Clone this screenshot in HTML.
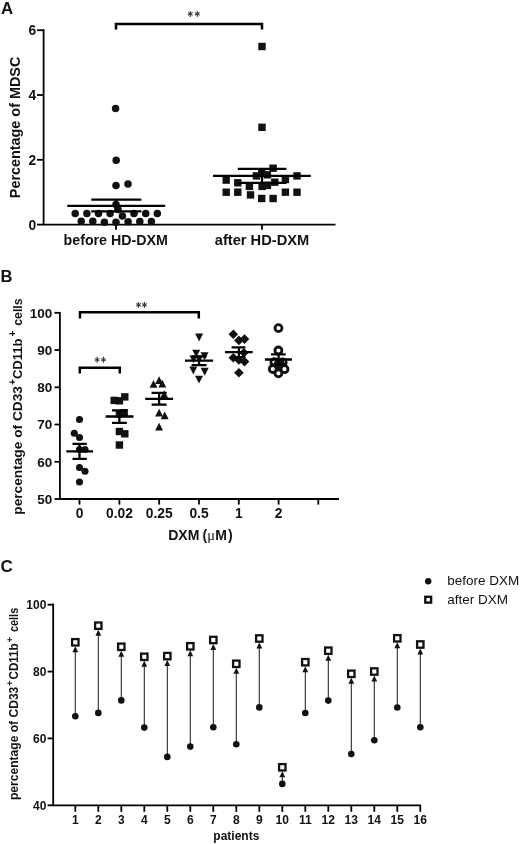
<!DOCTYPE html>
<html><head><meta charset="utf-8"><title>Figure</title>
<style>
html,body{margin:0;padding:0;background:#fff;}
body{width:520px;height:844px;overflow:hidden;font-family:"Liberation Sans",sans-serif;}
svg{display:block;filter:grayscale(1) blur(0.3px);font-family:"Liberation Sans",sans-serif;}
.b{font-weight:bold;fill:#111;}
.r{font-weight:normal;fill:#111;}
.ax{stroke:#000;stroke-width:1.8;fill:none;stroke-linecap:butt;}
.el{stroke:#000;stroke-width:2.3;fill:none;}
.br{stroke:#000;stroke-width:2.5;fill:none;stroke-linejoin:miter;}
.ar{stroke:#222;stroke-width:1.05;fill:none;}
.st{fill:#555;font-weight:normal;}
</style></head><body>
<svg width="520" height="844" viewBox="0 0 520 844">
<rect x="0" y="0" width="520" height="844" fill="#ffffff"/>

<g id="panelA">
<text class="b" x="1" y="13.6" font-size="16.8">A</text>
<path class="ax" d="M43.6 29.2 V224.6 H335.5"/>
<path class="ax" d="M37 30.2 H43.6"/>
<text class="b" x="36.2" y="35.1" font-size="13.8" text-anchor="end">6</text>
<path class="ax" d="M37 95 H43.6"/>
<text class="b" x="36.2" y="99.9" font-size="13.8" text-anchor="end">4</text>
<path class="ax" d="M37 159.8 H43.6"/>
<text class="b" x="36.2" y="164.7" font-size="13.8" text-anchor="end">2</text>
<path class="ax" d="M37 224.6 H43.6"/>
<text class="b" x="36.2" y="229.5" font-size="13.8" text-anchor="end">0</text>
<path class="ax" d="M116 224.6 V229.8"/>
<path class="ax" d="M262 224.6 V229.8"/>
<text class="b" x="115.7" y="244.5" font-size="14" text-anchor="middle" textLength="104.3" lengthAdjust="spacingAndGlyphs">before HD-DXM</text>
<text class="b" x="262" y="244.5" font-size="14" text-anchor="middle" textLength="94.5" lengthAdjust="spacingAndGlyphs">after HD-DXM</text>
<text class="b" transform="translate(19.6 198.2) rotate(-90)" font-size="14" textLength="141.5" lengthAdjust="spacingAndGlyphs">Percentage of MDSC</text>
<path class="br" d="M116 29.5 V24 H262 V29.5"/>
<path d="M190.3 10.90 V16.90 M188.01 12.57 L192.59 15.23 M188.01 15.23 L192.59 12.57" stroke="#3c3c3c" stroke-width="1.1" fill="none"/>
<path d="M197.3 10.90 V16.90 M195.01 12.57 L199.59 15.23 M195.01 15.23 L199.59 12.57" stroke="#3c3c3c" stroke-width="1.1" fill="none"/>
<circle cx="75.2" cy="213.4" r="3.75" fill="#111"/>
<circle cx="86.9" cy="213.4" r="3.75" fill="#111"/>
<circle cx="98.5" cy="213.4" r="3.75" fill="#111"/>
<circle cx="110.1" cy="213.4" r="3.75" fill="#111"/>
<circle cx="122.4" cy="216.0" r="3.75" fill="#111"/>
<circle cx="134" cy="213.4" r="3.75" fill="#111"/>
<circle cx="145.7" cy="213.4" r="3.75" fill="#111"/>
<circle cx="157.3" cy="213.4" r="3.75" fill="#111"/>
<circle cx="81.2" cy="221.3" r="3.75" fill="#111"/>
<circle cx="92.8" cy="221.3" r="3.75" fill="#111"/>
<circle cx="104.4" cy="222.3" r="3.75" fill="#111"/>
<circle cx="116" cy="222.3" r="3.75" fill="#111"/>
<circle cx="128.1" cy="221.8" r="3.75" fill="#111"/>
<circle cx="139.8" cy="221.5" r="3.75" fill="#111"/>
<circle cx="151.4" cy="221.5" r="3.75" fill="#111"/>
<circle cx="116" cy="204.5" r="3.75" fill="#111"/>
<circle cx="118" cy="209.5" r="3.75" fill="#111"/>
<circle cx="116" cy="185.5" r="3.75" fill="#111"/>
<circle cx="128" cy="184" r="3.75" fill="#111"/>
<circle cx="116.2" cy="160.2" r="3.75" fill="#111"/>
<circle cx="115.6" cy="108.5" r="3.75" fill="#111"/>
<path class="el" d="M67.3 205.9 H165.2 M91.3 199.7 H141.4 M91.3 211.3 H141.4 M116 199.7 V211.3"/>
<rect x="269.4" y="164.5" width="7.4" height="7.4" fill="#111"/>
<rect x="252.7" y="172.2" width="7.4" height="7.4" fill="#111"/>
<rect x="258.0" y="169.0" width="7.4" height="7.4" fill="#111"/>
<rect x="263.7" y="171.1" width="7.4" height="7.4" fill="#111"/>
<rect x="293.3" y="172.2" width="7.4" height="7.4" fill="#111"/>
<rect x="222.5" y="176.4" width="7.4" height="7.4" fill="#111"/>
<rect x="281.7" y="175.8" width="7.4" height="7.4" fill="#111"/>
<rect x="234.1" y="179.1" width="7.4" height="7.4" fill="#111"/>
<rect x="271.1" y="178.5" width="7.4" height="7.4" fill="#111"/>
<rect x="245.7" y="182.7" width="7.4" height="7.4" fill="#111"/>
<rect x="258.4" y="182.7" width="7.4" height="7.4" fill="#111"/>
<rect x="263.7" y="181.7" width="7.4" height="7.4" fill="#111"/>
<rect x="222.5" y="188.5" width="7.4" height="7.4" fill="#111"/>
<rect x="234.1" y="188.5" width="7.4" height="7.4" fill="#111"/>
<rect x="281.7" y="188.5" width="7.4" height="7.4" fill="#111"/>
<rect x="293.3" y="188.5" width="7.4" height="7.4" fill="#111"/>
<rect x="246.8" y="191.2" width="7.4" height="7.4" fill="#111"/>
<rect x="258.0" y="194.8" width="7.4" height="7.4" fill="#111"/>
<rect x="269.4" y="194.8" width="7.4" height="7.4" fill="#111"/>
<rect x="258.3" y="42.8" width="7.4" height="7.4" fill="#111"/>
<rect x="258.3" y="123.6" width="7.4" height="7.4" fill="#111"/>
<path class="el" d="M213 175.9 H310.8 M237.8 168.9 H286.4 M237.8 182.9 H286.4 M262 168.9 V182.9"/>
</g>
<g id="panelB">
<text class="b" x="0.5" y="281.9" font-size="16.5">B</text>
<path class="ax" d="M59.9 312.0 V499.0 H339"/>
<path class="ax" d="M54.5 312.8 H59.9"/>
<text class="b" x="52.2" y="317.6" font-size="13.5" text-anchor="end">100</text>
<path class="ax" d="M54.5 350.0 H59.9"/>
<text class="b" x="52.2" y="354.8" font-size="13.5" text-anchor="end">90</text>
<path class="ax" d="M54.5 387.3 H59.9"/>
<text class="b" x="52.2" y="392.1" font-size="13.5" text-anchor="end">80</text>
<path class="ax" d="M54.5 424.5 H59.9"/>
<text class="b" x="52.2" y="429.3" font-size="13.5" text-anchor="end">70</text>
<path class="ax" d="M54.5 461.8 H59.9"/>
<text class="b" x="52.2" y="466.6" font-size="13.5" text-anchor="end">60</text>
<path class="ax" d="M54.5 499.0 H59.9"/>
<text class="b" x="52.2" y="503.8" font-size="13.5" text-anchor="end">50</text>
<path class="ax" d="M79.5 499.0 V504.6"/>
<path class="ax" d="M119.4 499.0 V504.6"/>
<path class="ax" d="M159.2 499.0 V504.6"/>
<path class="ax" d="M199 499.0 V504.6"/>
<path class="ax" d="M238.8 499.0 V504.6"/>
<path class="ax" d="M278.6 499.0 V504.6"/>
<path class="ax" d="M318.3 499.0 V504.6"/>
<text class="b" x="79.5" y="518" font-size="13.8" text-anchor="middle">0</text>
<text class="b" x="119.4" y="518" font-size="13.8" text-anchor="middle">0.02</text>
<text class="b" x="159.2" y="518" font-size="13.8" text-anchor="middle">0.25</text>
<text class="b" x="199" y="518" font-size="13.8" text-anchor="middle">0.5</text>
<text class="b" x="238.8" y="518" font-size="13.8" text-anchor="middle">1</text>
<text class="b" x="278.6" y="518" font-size="13.8" text-anchor="middle">2</text>
<text class="b" y="539.5" font-size="14"><tspan x="168.2">DXM</tspan><tspan x="202.4">(</tspan><tspan x="207.2" font-weight="normal" font-family="Liberation Serif, serif" font-size="14.5">μ</tspan><tspan x="215.3">M</tspan><tspan x="227.9">)</tspan></text>
<g transform="translate(22.2 514.7) rotate(-90)"><text class="b" x="0" y="0" font-size="13.5" textLength="128.6" lengthAdjust="spacingAndGlyphs">percentage of CD33</text><text class="b" x="129.6" y="-6.3" font-size="10">+</text><text class="b" x="135.6" y="0" font-size="13.5" textLength="40.7" lengthAdjust="spacingAndGlyphs">CD11b</text><text class="b" x="178.2" y="-6.3" font-size="10">+</text><text class="b" x="189.0" y="0" font-size="13.5" textLength="27.2" lengthAdjust="spacingAndGlyphs">cells</text></g>
<path class="br" d="M80 318.6 V312.2 H198.8 V318.6"/>
<path class="br" d="M79.8 373.6 V367.7 H119.8 V373.6"/>
<path d="M138.5 301.90 V307.90 M136.21 303.57 L140.79 306.22 M136.21 306.22 L140.79 303.57" stroke="#3c3c3c" stroke-width="1.1" fill="none"/>
<path d="M144.5 301.90 V307.90 M142.21 303.57 L146.79 306.22 M142.21 306.22 L146.79 303.57" stroke="#3c3c3c" stroke-width="1.1" fill="none"/>
<path d="M97.1 356.80 V362.80 M94.81 358.48 L99.39 361.12 M94.81 361.12 L99.39 358.48" stroke="#3c3c3c" stroke-width="1.1" fill="none"/>
<path d="M103.5 356.80 V362.80 M101.21 358.48 L105.79 361.12 M101.21 361.12 L105.79 358.48" stroke="#3c3c3c" stroke-width="1.1" fill="none"/>
<circle cx="79.5" cy="419.5" r="3.55" fill="#111"/>
<circle cx="74.3" cy="433.3" r="3.55" fill="#111"/>
<circle cx="79.5" cy="437.5" r="3.55" fill="#111"/>
<circle cx="79.5" cy="449.5" r="3.55" fill="#111"/>
<circle cx="85" cy="449.5" r="3.55" fill="#111"/>
<circle cx="79.5" cy="467.5" r="3.55" fill="#111"/>
<circle cx="85" cy="471.3" r="3.55" fill="#111"/>
<circle cx="79.5" cy="482" r="3.55" fill="#111"/>
<path class="el" d="M66.3 451.3 H93 M72.5 443.8 H86.8 M72.5 458.8 H86.8 M79.5 443.8 V458.8"/>
<rect x="121.1" y="393.2" width="7.4" height="7.4" fill="#111"/>
<rect x="110.5" y="396.7" width="7.4" height="7.4" fill="#111"/>
<rect x="115.7" y="397.1" width="7.4" height="7.4" fill="#111"/>
<rect x="115.7" y="410.1" width="7.4" height="7.4" fill="#111"/>
<rect x="120.5" y="409.0" width="7.4" height="7.4" fill="#111"/>
<rect x="115.7" y="427.8" width="7.4" height="7.4" fill="#111"/>
<rect x="121.1" y="430.1" width="7.4" height="7.4" fill="#111"/>
<rect x="115.7" y="441.3" width="7.4" height="7.4" fill="#111"/>
<path class="el" d="M105.6 416.5 H133.5 M112 410.3 H126.8 M112 422.9 H126.8 M119.4 410.3 V422.9"/>
<path d="M153.5 379.9 L157.45 387.7 L149.55 387.7 Z" fill="#111"/>
<path d="M159.1 376.3 L163.04999999999998 384.1 L155.15 384.1 Z" fill="#111"/>
<path d="M162.3 379.7 L166.25 387.5 L158.35000000000002 387.5 Z" fill="#111"/>
<path d="M164.2 390.3 L168.14999999999998 398.1 L160.25 398.1 Z" fill="#111"/>
<path d="M159.1 408.8 L163.04999999999998 416.6 L155.15 416.6 Z" fill="#111"/>
<path d="M164.7 411.5 L168.64999999999998 419.3 L160.75 419.3 Z" fill="#111"/>
<path d="M159.1 422.7 L163.04999999999998 430.5 L155.15 430.5 Z" fill="#111"/>
<path class="el" d="M145.2 398.9 H173.1 M151.6 392.9 H166.6 M151.6 404.7 H166.6 M159.1 392.9 V404.7"/>
<path d="M195.1 333.5 L203.1 333.5 L199.1 341.4 Z" fill="#111"/>
<path d="M192.2 349.7 L200.2 349.7 L196.2 357.59999999999997 Z" fill="#111"/>
<path d="M200.5 352.3 L208.5 352.3 L204.5 360.2 Z" fill="#111"/>
<path d="M189.5 355.4 L197.5 355.4 L193.5 363.29999999999995 Z" fill="#111"/>
<path d="M195.0 355.4 L203.0 355.4 L199 363.29999999999995 Z" fill="#111"/>
<path d="M189.3 366.5 L197.3 366.5 L193.3 374.4 Z" fill="#111"/>
<path d="M200.7 367.8 L208.7 367.8 L204.7 375.7 Z" fill="#111"/>
<path d="M195.0 375.7 L203.0 375.7 L199 383.59999999999997 Z" fill="#111"/>
<path class="el" d="M185 360.6 H213.1 M191.6 356.3 H206.6 M191.6 365.1 H206.6 M199 356.3 V365.1"/>
<path d="M233.3 329.5 L238.10000000000002 334.3 L233.3 339.1 L228.5 334.3 Z" fill="#111"/>
<path d="M238.9 335.59999999999997 L243.70000000000002 340.4 L238.9 345.2 L234.1 340.4 Z" fill="#111"/>
<path d="M244.5 334.3 L249.3 339.1 L244.5 343.90000000000003 L239.7 339.1 Z" fill="#111"/>
<path d="M233.3 352.9 L238.10000000000002 357.7 L233.3 362.5 L228.5 357.7 Z" fill="#111"/>
<path d="M238.9 355.2 L243.70000000000002 360 L238.9 364.8 L234.1 360 Z" fill="#111"/>
<path d="M244.5 356.8 L249.3 361.6 L244.5 366.40000000000003 L239.7 361.6 Z" fill="#111"/>
<path d="M243.9 347.9 L248.70000000000002 352.7 L243.9 357.5 L239.1 352.7 Z" fill="#111"/>
<path d="M238.9 368.0 L243.70000000000002 372.8 L238.9 377.6 L234.1 372.8 Z" fill="#111"/>
<path class="el" d="M225 352.2 H252.7 M231.6 347.3 H245.4 M231.6 357.1 H245.4 M238.9 347.3 V357.1"/>
<circle cx="278.5" cy="328.1" r="3.5" fill="none" stroke="#111" stroke-width="2.8"/>
<circle cx="278.4" cy="350.5" r="3.5" fill="none" stroke="#111" stroke-width="2.8"/>
<circle cx="272.8" cy="369" r="3.5" fill="none" stroke="#111" stroke-width="2.8"/>
<circle cx="278.4" cy="373.3" r="3.5" fill="none" stroke="#111" stroke-width="2.8"/>
<circle cx="284.5" cy="369.2" r="3.5" fill="none" stroke="#111" stroke-width="2.8"/>
<circle cx="274.4" cy="362.2" r="3.5" fill="none" stroke="#111" stroke-width="2.8"/>
<circle cx="282.7" cy="362.4" r="3.5" fill="none" stroke="#111" stroke-width="2.8"/>
<circle cx="278.6" cy="364.3" r="3.5" fill="none" stroke="#111" stroke-width="2.8"/>
<ellipse cx="280.2" cy="363.6" rx="4.3" ry="4.8" fill="#111"/>
<path class="el" d="M264.9 359.5 H291.9 M271.1 354.4 H285.7 M271.1 364.6 H285.7 M278.6 354.4 V364.6"/>
</g>
<g id="panelC">
<text class="b" x="0.6" y="571.8" font-size="17">C</text>
<path class="ax" d="M53.2 603.6 V805.3 H420.9"/>
<path class="ax" d="M47.6 604.7 H53.2"/>
<text class="b" x="46.4" y="609.0" font-size="12" text-anchor="end">100</text>
<path class="ax" d="M47.6 671.6 H53.2"/>
<text class="b" x="46.4" y="675.9" font-size="12" text-anchor="end">80</text>
<path class="ax" d="M47.6 738.4 H53.2"/>
<text class="b" x="46.4" y="742.7" font-size="12" text-anchor="end">60</text>
<path class="ax" d="M47.6 805.3 H53.2"/>
<text class="b" x="46.4" y="809.6" font-size="12" text-anchor="end">40</text>
<path class="ax" d="M75.3 805.3 V811.8"/>
<text class="b" x="75.3" y="824.2" font-size="12" text-anchor="middle">1</text>
<path class="ax" d="M98.3 805.3 V811.8"/>
<text class="b" x="98.3" y="824.2" font-size="12" text-anchor="middle">2</text>
<path class="ax" d="M121.3 805.3 V811.8"/>
<text class="b" x="121.3" y="824.2" font-size="12" text-anchor="middle">3</text>
<path class="ax" d="M144.3 805.3 V811.8"/>
<text class="b" x="144.3" y="824.2" font-size="12" text-anchor="middle">4</text>
<path class="ax" d="M167.3 805.3 V811.8"/>
<text class="b" x="167.3" y="824.2" font-size="12" text-anchor="middle">5</text>
<path class="ax" d="M190.3 805.3 V811.8"/>
<text class="b" x="190.3" y="824.2" font-size="12" text-anchor="middle">6</text>
<path class="ax" d="M213.3 805.3 V811.8"/>
<text class="b" x="213.3" y="824.2" font-size="12" text-anchor="middle">7</text>
<path class="ax" d="M236.3 805.3 V811.8"/>
<text class="b" x="236.3" y="824.2" font-size="12" text-anchor="middle">8</text>
<path class="ax" d="M259.3 805.3 V811.8"/>
<text class="b" x="259.3" y="824.2" font-size="12" text-anchor="middle">9</text>
<path class="ax" d="M282.3 805.3 V811.8"/>
<text class="b" x="282.3" y="824.2" font-size="12" text-anchor="middle">10</text>
<path class="ax" d="M305.3 805.3 V811.8"/>
<text class="b" x="305.3" y="824.2" font-size="12" text-anchor="middle">11</text>
<path class="ax" d="M328.3 805.3 V811.8"/>
<text class="b" x="328.3" y="824.2" font-size="12" text-anchor="middle">12</text>
<path class="ax" d="M351.3 805.3 V811.8"/>
<text class="b" x="351.3" y="824.2" font-size="12" text-anchor="middle">13</text>
<path class="ax" d="M374.3 805.3 V811.8"/>
<text class="b" x="374.3" y="824.2" font-size="12" text-anchor="middle">14</text>
<path class="ax" d="M397.3 805.3 V811.8"/>
<text class="b" x="397.3" y="824.2" font-size="12" text-anchor="middle">15</text>
<path class="ax" d="M420.3 805.3 V811.8"/>
<text class="b" x="420.3" y="824.2" font-size="12" text-anchor="middle">16</text>
<text class="b" x="213.3" y="840.3" font-size="12">patients</text>
<g transform="translate(18 800) rotate(-90)"><text class="b" x="0" y="0" font-size="12" textLength="113.3" lengthAdjust="spacingAndGlyphs">percentage of CD33</text><text class="b" x="114.0" y="-5.5" font-size="9.5">+</text><text class="b" x="120.5" y="0" font-size="12" textLength="36.2" lengthAdjust="spacingAndGlyphs">CD11b</text><text class="b" x="157.4" y="-5.5" font-size="9.5">+</text><text class="b" x="168" y="0" font-size="12" textLength="24.2" lengthAdjust="spacingAndGlyphs">cells</text></g>
<path class="ar" d="M75.3 716.2 V649.3"/>
<path d="M75.3 646.3 L78.2 652.3 L72.4 652.3 Z" fill="#111"/>
<circle cx="75.3" cy="716.2" r="3.3" fill="#111"/>
<rect x="72.1" y="639.1" width="6.4" height="6.4" fill="#fff" stroke="#111" stroke-width="2.3"/>
<path class="ar" d="M98.3 712.9 V632.7"/>
<path d="M98.3 629.7 L101.2 635.7 L95.4 635.7 Z" fill="#111"/>
<circle cx="98.3" cy="712.9" r="3.3" fill="#111"/>
<rect x="95.1" y="622.5" width="6.4" height="6.4" fill="#fff" stroke="#111" stroke-width="2.3"/>
<path class="ar" d="M121.3 700.4 V653.8"/>
<path d="M121.3 650.8 L124.2 656.8 L118.4 656.8 Z" fill="#111"/>
<circle cx="121.3" cy="700.4" r="3.3" fill="#111"/>
<rect x="118.1" y="643.6" width="6.4" height="6.4" fill="#fff" stroke="#111" stroke-width="2.3"/>
<path class="ar" d="M144.3 727.6 V663.8"/>
<path d="M144.3 660.8 L147.2 666.8 L141.4 666.8 Z" fill="#111"/>
<circle cx="144.3" cy="727.6" r="3.3" fill="#111"/>
<rect x="141.1" y="653.6" width="6.4" height="6.4" fill="#fff" stroke="#111" stroke-width="2.3"/>
<path class="ar" d="M167.3 756.9 V663.1"/>
<path d="M167.3 660.1 L170.2 666.1 L164.4 666.1 Z" fill="#111"/>
<circle cx="167.3" cy="756.9" r="3.3" fill="#111"/>
<rect x="164.1" y="652.9" width="6.4" height="6.4" fill="#fff" stroke="#111" stroke-width="2.3"/>
<path class="ar" d="M190.3 746.6 V653.3"/>
<path d="M190.3 650.3 L193.2 656.3 L187.4 656.3 Z" fill="#111"/>
<circle cx="190.3" cy="746.6" r="3.3" fill="#111"/>
<rect x="187.1" y="643.1" width="6.4" height="6.4" fill="#fff" stroke="#111" stroke-width="2.3"/>
<path class="ar" d="M213.3 727.3 V647.0"/>
<path d="M213.3 644.0 L216.2 650.0 L210.4 650.0 Z" fill="#111"/>
<circle cx="213.3" cy="727.3" r="3.3" fill="#111"/>
<rect x="210.1" y="636.8" width="6.4" height="6.4" fill="#fff" stroke="#111" stroke-width="2.3"/>
<path class="ar" d="M236.3 744.3 V670.8"/>
<path d="M236.3 667.8 L239.2 673.8 L233.4 673.8 Z" fill="#111"/>
<circle cx="236.3" cy="744.3" r="3.3" fill="#111"/>
<rect x="233.1" y="660.6" width="6.4" height="6.4" fill="#fff" stroke="#111" stroke-width="2.3"/>
<path class="ar" d="M259.3 707.4 V645.5"/>
<path d="M259.3 642.5 L262.2 648.5 L256.4 648.5 Z" fill="#111"/>
<circle cx="259.3" cy="707.4" r="3.3" fill="#111"/>
<rect x="256.1" y="635.3" width="6.4" height="6.4" fill="#fff" stroke="#111" stroke-width="2.3"/>
<path class="ar" d="M282.3 783.9 V774.3"/>
<path d="M282.3 771.3 L285.2 777.3 L279.4 777.3 Z" fill="#111"/>
<circle cx="282.3" cy="783.9" r="3.3" fill="#111"/>
<rect x="279.1" y="764.1" width="6.4" height="6.4" fill="#fff" stroke="#111" stroke-width="2.3"/>
<path class="ar" d="M305.3 713 V669.2"/>
<path d="M305.3 666.2 L308.2 672.2 L302.4 672.2 Z" fill="#111"/>
<circle cx="305.3" cy="713" r="3.3" fill="#111"/>
<rect x="302.1" y="659.0" width="6.4" height="6.4" fill="#fff" stroke="#111" stroke-width="2.3"/>
<path class="ar" d="M328.3 700.6 V657.7"/>
<path d="M328.3 654.7 L331.2 660.7 L325.4 660.7 Z" fill="#111"/>
<circle cx="328.3" cy="700.6" r="3.3" fill="#111"/>
<rect x="325.1" y="647.5" width="6.4" height="6.4" fill="#fff" stroke="#111" stroke-width="2.3"/>
<path class="ar" d="M351.3 754 V680.8"/>
<path d="M351.3 677.8 L354.2 683.8 L348.4 683.8 Z" fill="#111"/>
<circle cx="351.3" cy="754" r="3.3" fill="#111"/>
<rect x="348.1" y="670.6" width="6.4" height="6.4" fill="#fff" stroke="#111" stroke-width="2.3"/>
<path class="ar" d="M374.3 740.2 V678.5"/>
<path d="M374.3 675.5 L377.2 681.5 L371.4 681.5 Z" fill="#111"/>
<circle cx="374.3" cy="740.2" r="3.3" fill="#111"/>
<rect x="371.1" y="668.3" width="6.4" height="6.4" fill="#fff" stroke="#111" stroke-width="2.3"/>
<path class="ar" d="M397.3 707.5 V645.3"/>
<path d="M397.3 642.3 L400.2 648.3 L394.4 648.3 Z" fill="#111"/>
<circle cx="397.3" cy="707.5" r="3.3" fill="#111"/>
<rect x="394.1" y="635.1" width="6.4" height="6.4" fill="#fff" stroke="#111" stroke-width="2.3"/>
<path class="ar" d="M420.3 727.2 V651.5"/>
<path d="M420.3 648.5 L423.2 654.5 L417.4 654.5 Z" fill="#111"/>
<circle cx="420.3" cy="727.2" r="3.3" fill="#111"/>
<rect x="417.1" y="641.3" width="6.4" height="6.4" fill="#fff" stroke="#111" stroke-width="2.3"/>
<circle cx="428.2" cy="581.2" r="3.2" fill="#111"/>
<rect x="425.3" y="596.8" width="5.8" height="5.8" fill="#fff" stroke="#111" stroke-width="2.4"/>
<text class="r" x="447.3" y="585" font-size="13.5">before DXM</text>
<text class="r" x="447.3" y="603.8" font-size="13.5">after DXM</text>
</g>
</svg></body></html>
